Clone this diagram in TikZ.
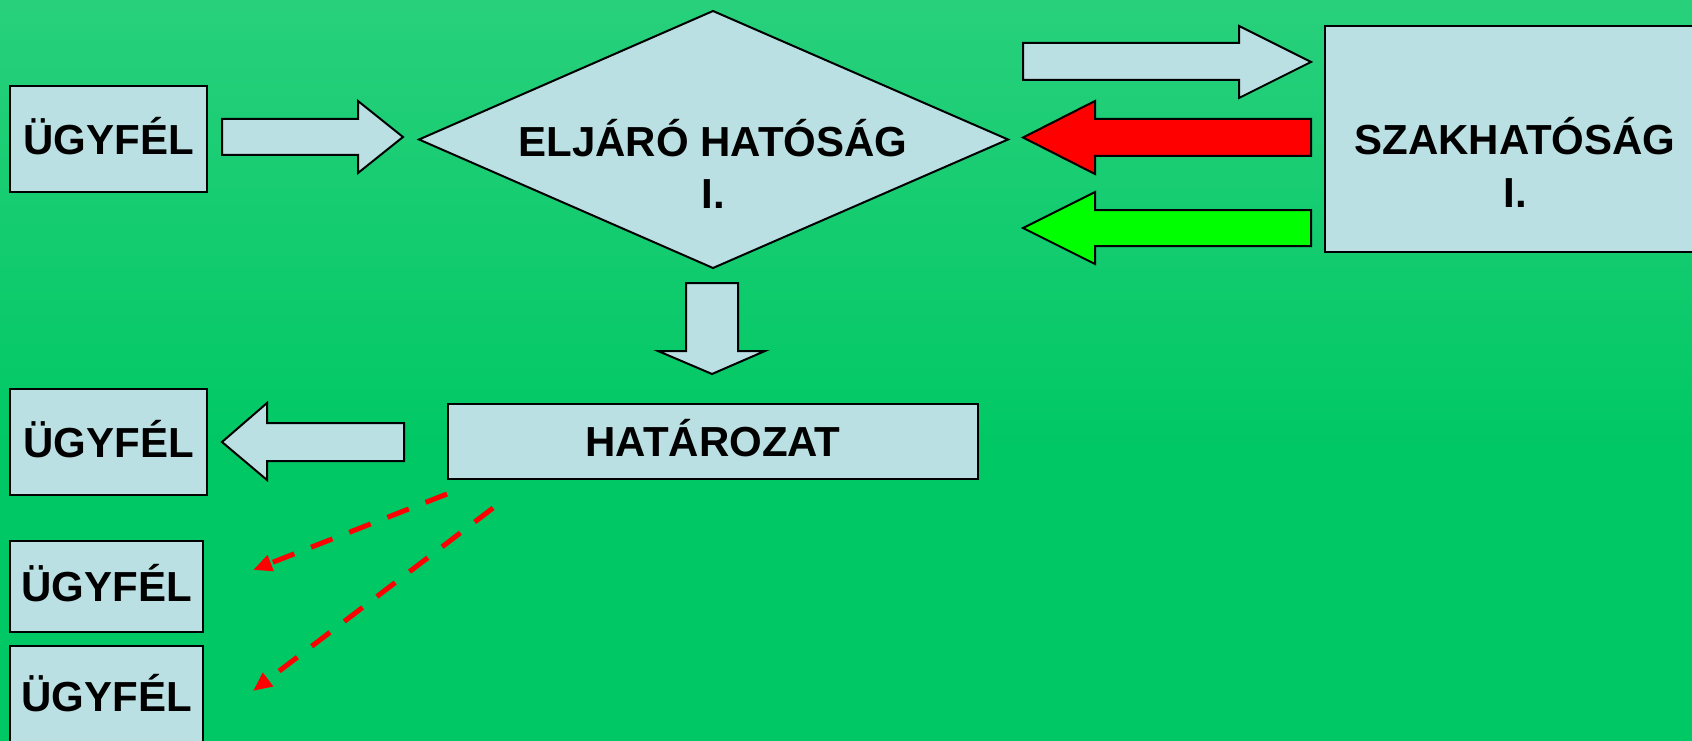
\documentclass[tikz,border=0pt]{standalone}
\usepackage{fontspec}
\setmainfont{Liberation Sans}
\usetikzlibrary{arrows.meta}
\definecolor{boxblue}{RGB}{187,224,227}
\definecolor{bgtop}{RGB}{54,211,132}
\definecolor{bgbot}{RGB}{0,200,100}
\definecolor{arrred}{RGB}{255,0,0}
\definecolor{arrgreen}{RGB}{0,255,0}
\newcommand\lblfont{\bfseries\fontsize{42}{52}\selectfont}
\begin{document}
\begin{tikzpicture}[x=1pt,y=-1pt,
  shapeline/.style={draw=black, line width=2pt, line join=miter},
  ubox/.style={shapeline, fill=boxblue, inner sep=0pt, text height=30pt, text depth=0pt, font=\lblfont, anchor=center},
  txt/.style={font=\lblfont, inner sep=0pt, anchor=base},
  blockarrow/.style={shapeline, fill=boxblue},
  dasharrow/.style={draw=arrred, line width=5pt, dash pattern=on 23pt off 18pt, -{Triangle[length=19pt,width=16pt]}}]
% background
\useasboundingbox (0,0) rectangle (1692,741);
\fill[bgbot] (0,0) rectangle (1692,741);
\shade[top color=bgtop, bottom color=bgbot] (0,-150) rectangle (1692,450);

% diamond
\coordinate (dw) at (419,139.5);
\coordinate (dn) at (713,11);
\coordinate (de) at (1008,139.5);
\coordinate (ds) at (713,268);
\draw[shapeline, fill=boxblue] (dw) -- (dn) -- (de) -- (ds) -- cycle;
\node[txt] (elj1) at (713,157) {ELJÁRÓ HATÓSÁG};
\node[txt] (elj2) at (713,208) {I.};

% boxes
\node[ubox, minimum width=197pt, minimum height=106pt] (ugy1) at (108.5,139) {ÜGYFÉL};
\node[ubox, minimum width=197pt, minimum height=106pt] (ugy2) at (108.5,442) {ÜGYFÉL};
\node[ubox, minimum width=193pt, minimum height=91pt] (ugy3) at (106.5,586.5) {ÜGYFÉL};
\node[ubox, minimum width=193pt, minimum height=100pt] (ugy4) at (106.5,696) {ÜGYFÉL};
\node[ubox, minimum width=530pt, minimum height=75pt] (hat) at (713,441.5) {HATÁROZAT};
\node[ubox, minimum width=380pt, minimum height=226pt] (szak) at (1515,139) {};
\node[txt] (szak1) at (1515,155) {SZAKHATÓSÁG};
\node[txt] (szak2) at (1515,207) {I.};

% block arrows
\draw[blockarrow] (222,119) -- (358,119) -- (358,101) -- (403,137) -- (358,173) -- (358,155) -- (222,155) -- cycle;
\draw[blockarrow] (1023,43) -- (1239,43) -- (1239,26) -- (1311,62) -- (1239,98) -- (1239,80) -- (1023,80) -- cycle;
\draw[shapeline, fill=arrred] (1311,119) -- (1095,119) -- (1095,101) -- (1023,137.5) -- (1095,174) -- (1095,156) -- (1311,156) -- cycle;
\draw[shapeline, fill=arrgreen] (1311,210) -- (1095,210) -- (1095,192) -- (1023,228) -- (1095,264) -- (1095,246) -- (1311,246) -- cycle;
\draw[blockarrow] (686,283) -- (738,283) -- (738,351) -- (765,351) -- (712,374) -- (658,351) -- (686,351) -- cycle;
\draw[blockarrow] (404,423) -- (267,423) -- (267,403) -- (222,442) -- (267,480) -- (267,461) -- (404,461) -- cycle;

% dashed arrows
\coordinate (e1) at (253,570);
\coordinate (e2) at (253,691);
\draw[dasharrow] ([yshift=-14pt]hat.south west) -- (e1);
\draw[dasharrow] ([xshift=46pt,yshift=-28pt]hat.south west) -- (e2);
\end{tikzpicture}
\end{document}
